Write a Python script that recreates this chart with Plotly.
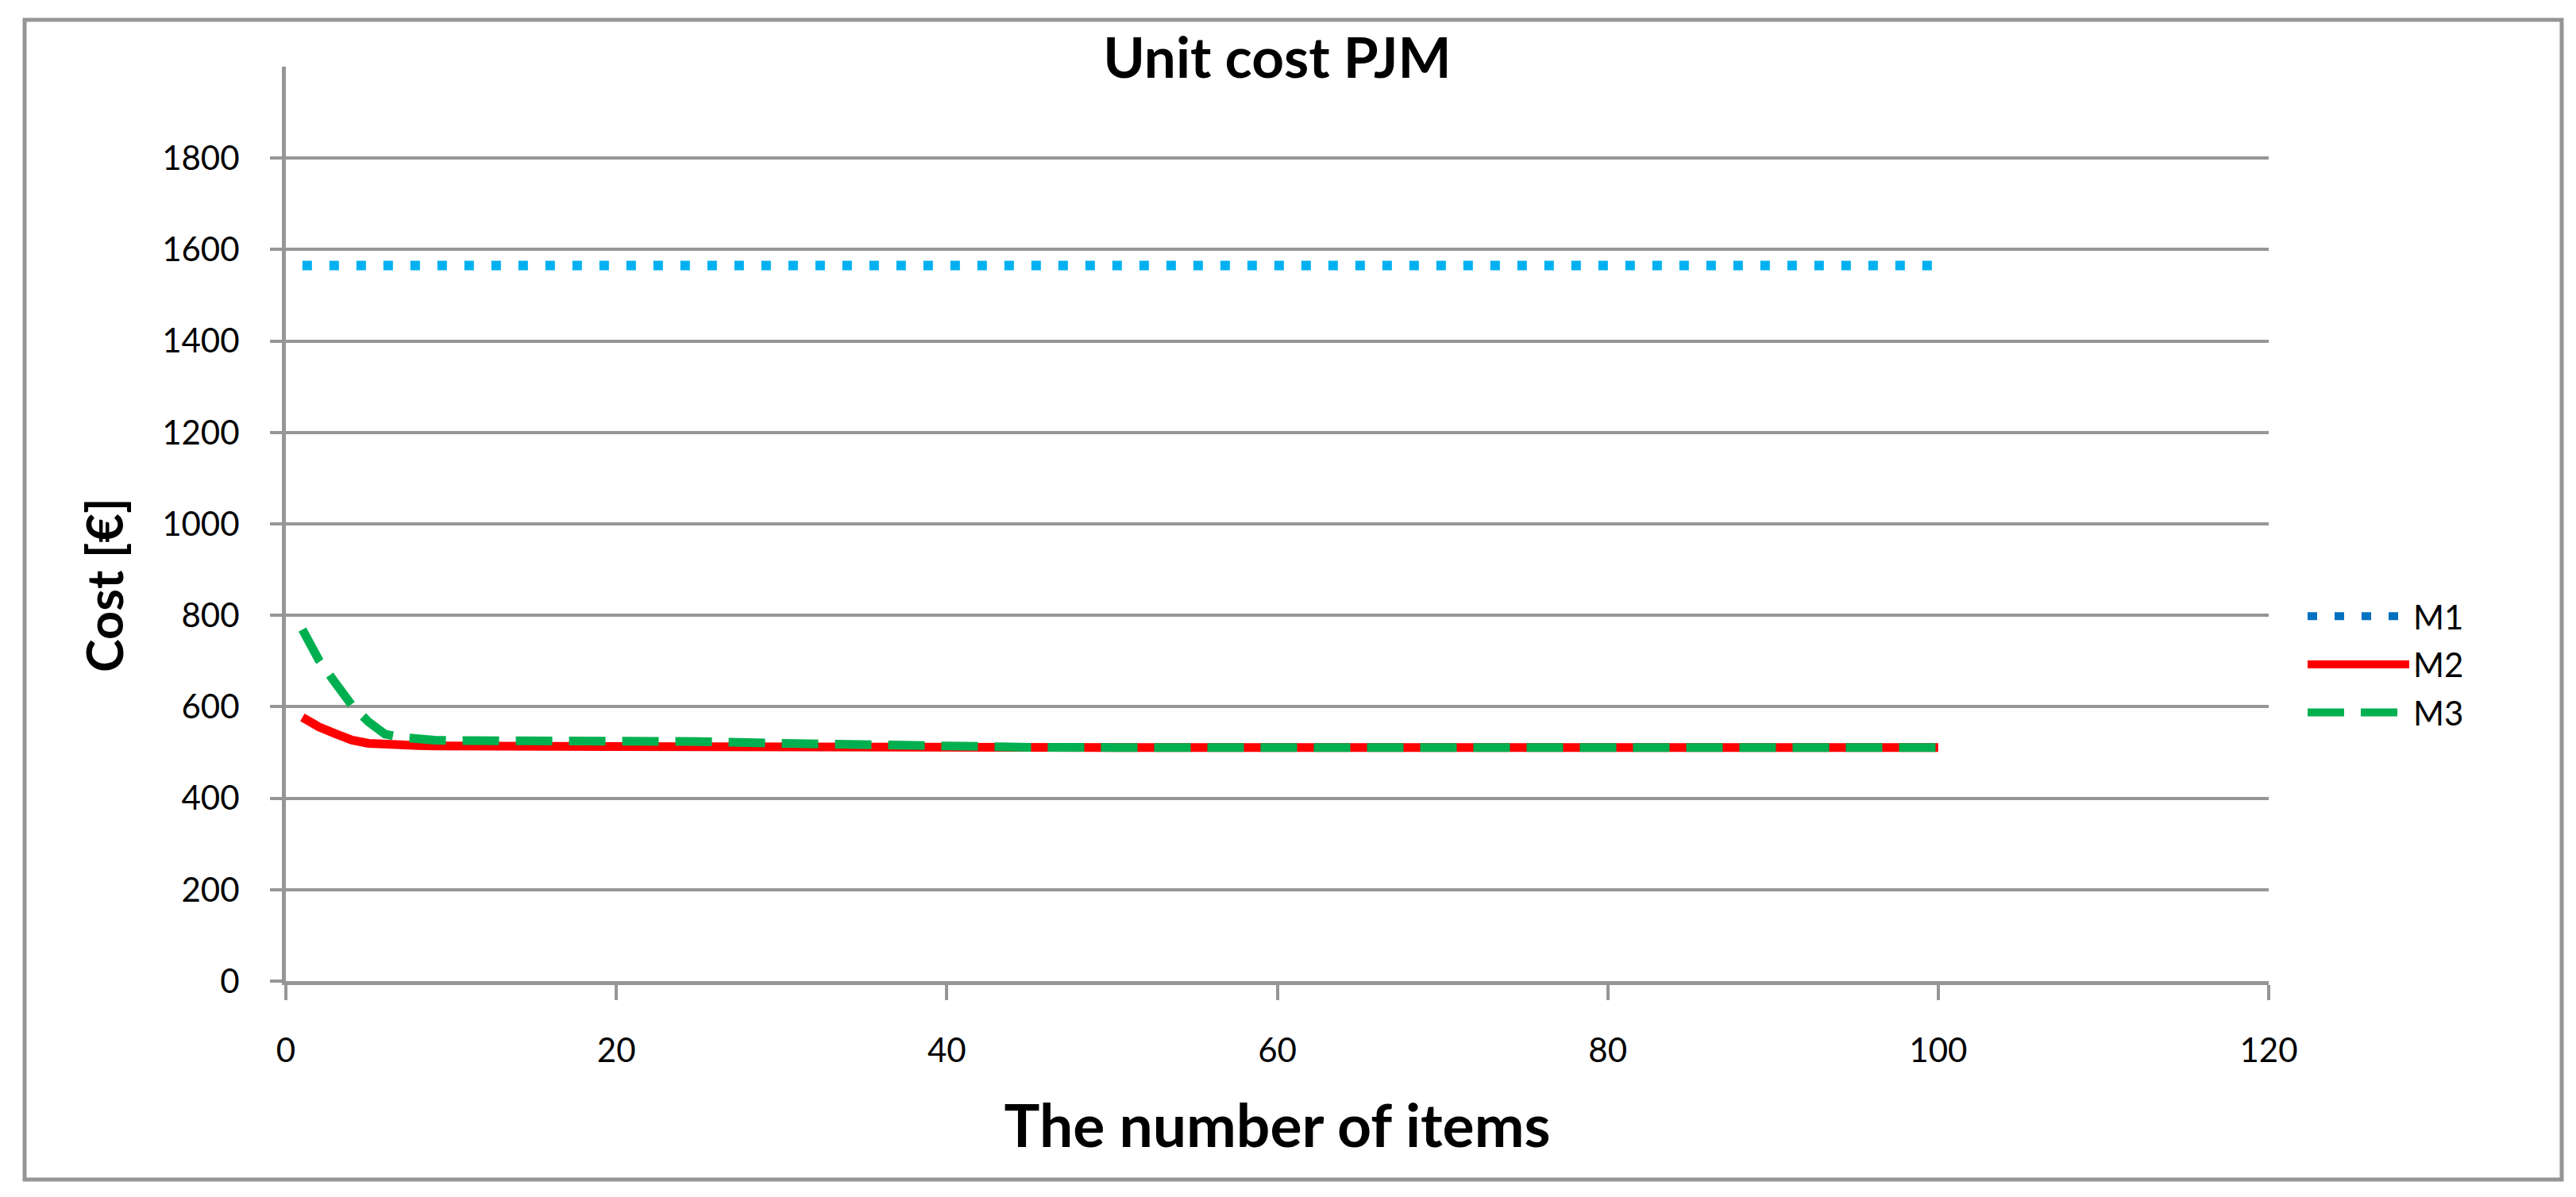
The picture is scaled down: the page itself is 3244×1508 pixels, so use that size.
import plotly.graph_objects as go

# ---- data ----
items = [1, 2, 3, 4, 5, 6, 7, 8, 9, 10, 15, 20, 25, 30, 35, 40, 45, 50, 60, 70, 80, 90, 100]
m1 = [1565, 1565, 1565, 1565, 1565, 1565, 1565, 1565, 1565, 1565, 1565, 1565,
      1565, 1565, 1565, 1565, 1565, 1565, 1565, 1565, 1565, 1565, 1565]
m2 = [577, 556, 541, 527, 520, 517, 515.5, 515, 514.5, 514, 513.5, 513,
      512.5, 511.5, 511, 511, 511, 511, 511, 511, 511, 511, 511]
m3 = [769, 702, 652, 603, 567, 540, 533, 529, 527, 526, 526, 525,
      524, 520, 516.5, 513, 511.5, 511, 511, 511, 511, 511, 511]
x_ticks = [0, 20, 40, 60, 80, 100, 120]
y_ticks = [0, 200, 400, 600, 800, 1000, 1200, 1400, 1600, 1800]

GREY = "#969696"
FONT = "Lato"

fig = go.Figure()

# M1 plotted (light blue dots); legend entry uses the darker blue of the reference legend
fig.add_trace(go.Scatter(x=items, y=m1, mode="lines", name="M1", showlegend=False,
                         line=dict(color="#00B0F0", width=12, dash="12px,22px")))
fig.add_trace(go.Scatter(x=[None], y=[None], mode="lines", name="M1", legendgroup="g1",
                         line=dict(color="#0070C0", width=12, dash="12px,22px")))
fig.add_trace(go.Scatter(x=items, y=m2, mode="lines", name="M2", legendgroup="g2",
                         line=dict(color="#FF0000", width=11)))
fig.add_trace(go.Scatter(x=items, y=m3, mode="lines", name="M3", legendgroup="g3",
                         line=dict(color="#00B050", width=11, dash="46px,21px")))

axis_common = dict(
    showline=True, linecolor=GREY, linewidth=5,
    ticks="outside", tickcolor=GREY, tickwidth=4,
    tickfont=dict(family=FONT, size=42, color="black"),
    zeroline=False,
)

fig.update_layout(
    width=3244, height=1508,
    margin=dict(l=352, r=395, t=76, b=280),
    paper_bgcolor="white", plot_bgcolor="white",
    title=dict(text="Unit cost PJM", x=0.5, xref="paper", xanchor="center",
               y=1 - 65 / 1508, yref="container", yanchor="middle",
               font=dict(family=FONT, size=71, color="black", weight="bold")),
    xaxis=dict(range=[0, 120], tickvals=x_ticks, showgrid=False, ticklen=19,
               ticklabelstandoff=28,
               title=dict(text="The number of items", standoff=48,
                          font=dict(family=FONT, size=75, color="black", weight="bold")),
               **axis_common),
    yaxis=dict(range=[0, 2000], tickvals=y_ticks, showgrid=True, gridcolor=GREY,
               gridwidth=4, ticklen=15, ticklabelstandoff=30,
               **axis_common),
    legend=dict(x=(2893 - 352) / 2497, xanchor="left",
                y=(1228 - 829) / 1152, yanchor="middle",
                font=dict(family=FONT, size=42, color="black"),
                itemwidth=128, tracegroupgap=3, bgcolor="rgba(0,0,0,0)"),
    showlegend=True,
    annotations=[dict(text="<b>Cost [€]</b>", textangle=-90, showarrow=False,
                      xref="paper", yref="paper",
                      x=(122 - 352) / 2497, y=(1228 - 729) / 1152,
                      xanchor="center", yanchor="middle",
                      font=dict(family=FONT, size=63, color="black"))],
    shapes=[dict(type="rect", xref="paper", yref="paper",
                 x0=(23 - 352) / 2497, x1=(3218 - 352) / 2497,
                 y0=(1228 - 1478) / 1152, y1=(1228 - 17) / 1152,
                 line=dict(color=GREY, width=5), layer="below")],
)

fig.write_html("out.html")
